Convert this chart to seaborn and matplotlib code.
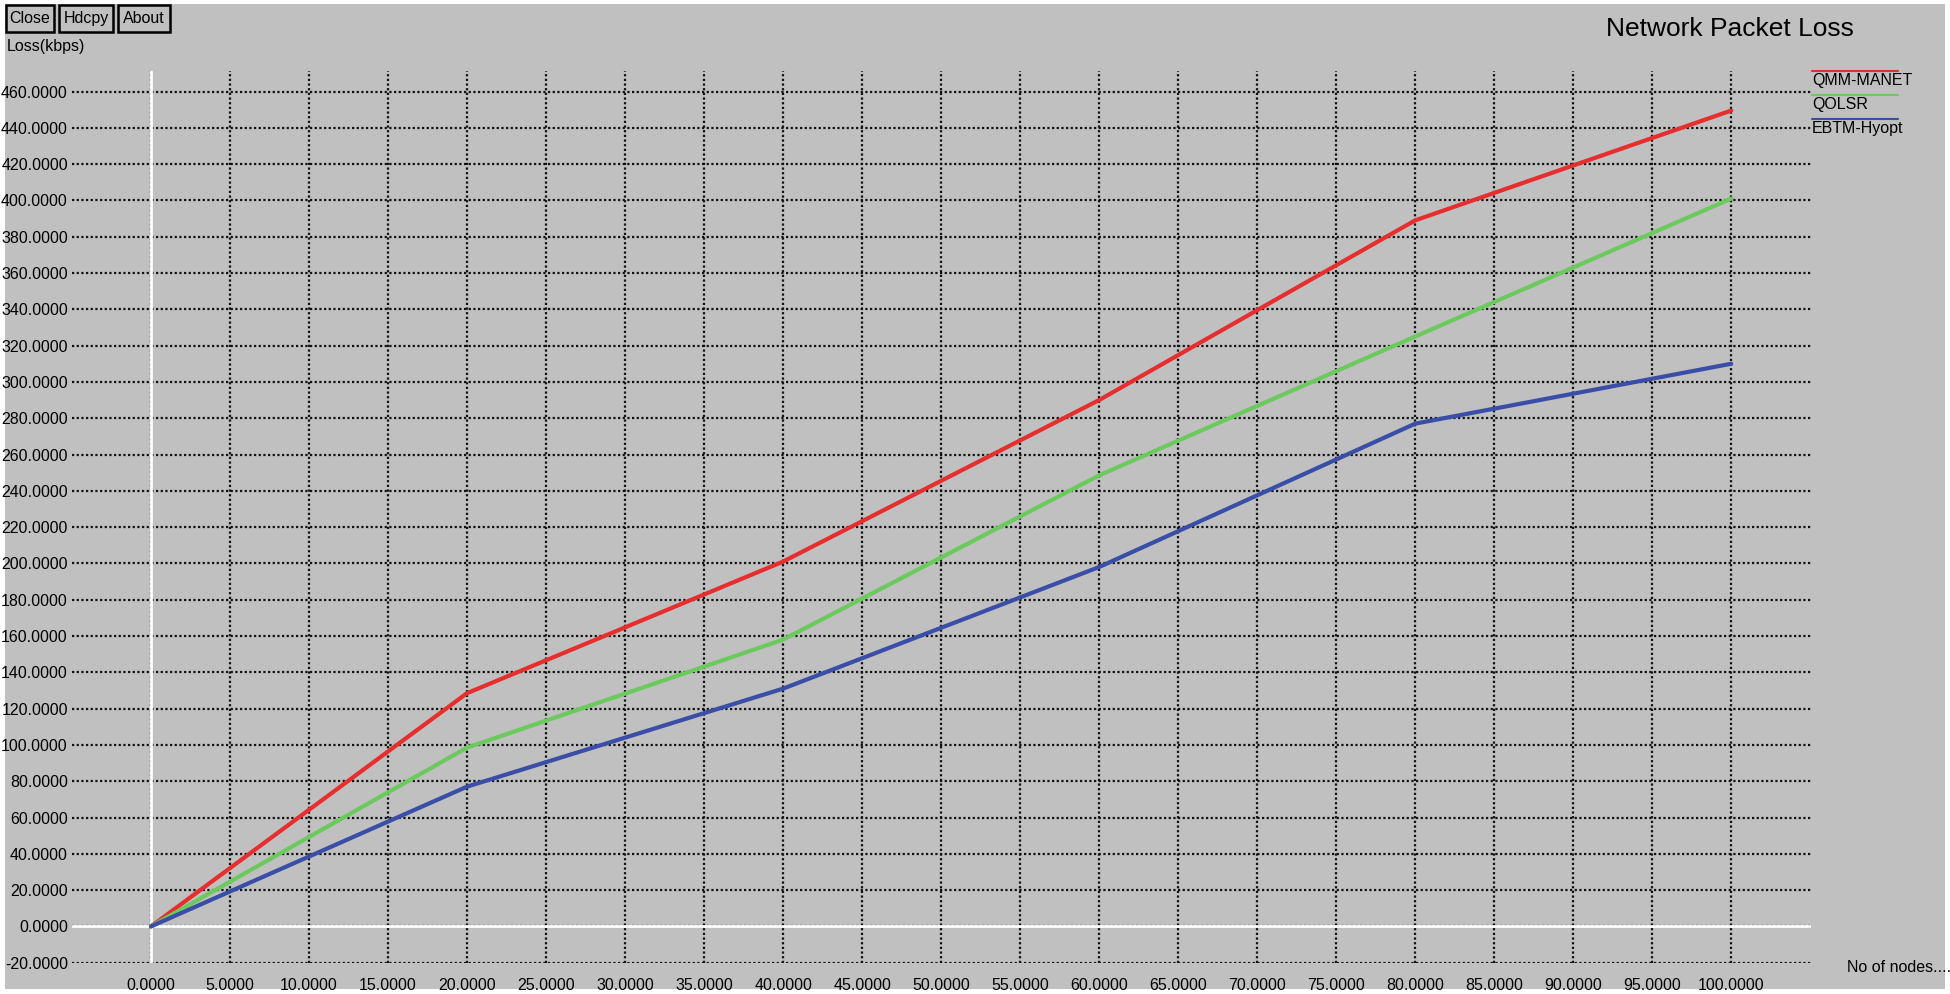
import numpy as np
import pandas as pd
import matplotlib
matplotlib.use("Agg")
import matplotlib.pyplot as plt
from matplotlib.lines import Line2D
from matplotlib.patches import Rectangle
import seaborn as sns

# Werte
nodes = [0, 20, 40, 60, 80, 100]
qmm_manet = [0, 128.5, 201, 290, 389, 449.5]
qolsr = [0, 98.5, 158, 248.5, 325, 401]
ebtm_hyopt = [0, 77, 131, 198, 277, 310]
series_names = ["QMM-MANET", "QOLSR", "EBTM-Hyopt"]
colors = ["#e62e2e", "#6cc95e", "#3a4ea8"]
x_ticks = list(range(0, 101, 5))
y_ticks = list(range(-20, 461, 20))
buttons = ["Close", "Hdcpy", "About"]

W, H = 1950, 994
bg = "#c0c0c0"

sns.set_theme(style="white")
plt.rcParams["font.family"] = ["Liberation Sans", "DejaVu Sans"]
plt.rcParams["text.color"] = "black"

df = pd.concat([
    pd.DataFrame({"nodes": nodes, "loss": vals, "protocol": name})
    for name, vals in zip(series_names, [qmm_manet, qolsr, ebtm_hyopt])
])

fig = plt.figure(figsize=(W / 100, H / 100), dpi=100, facecolor="white")
fig.patches.append(Rectangle((5 / W, 5 / H), 1 - 10 / W, 1 - 9 / H,
                             transform=fig.transFigure, facecolor=bg,
                             edgecolor="none", zorder=-1))

ax = fig.add_axes([72 / W, (H - 962.7) / H, (1811 - 72) / W, (962.7 - 71) / H])
ax.set_facecolor("none")

sns.lineplot(data=df, x="nodes", y="loss", hue="protocol", palette=colors,
             hue_order=series_names, linewidth=3, legend=False, ax=ax, zorder=3)

ax.set_xlim(-5, 105.05)
ax.set_ylim(-20, 471.3)
ax.set_xticks(x_ticks, labels=[f"{v:.4f}" for v in x_ticks])
ax.set_yticks(y_ticks, labels=[f"{v:.4f}" for v in y_ticks])
ax.tick_params(length=0, labelsize=11.5, colors="black", labelcolor="black")
ax.tick_params(axis="y", pad=3)
ax.tick_params(axis="x", pad=11)
ax.set_xlabel("")
ax.set_ylabel("")
for s in ax.spines.values():
    s.set_visible(False)
ax.grid(True, color="#111111", linestyle=(0, (1, 1.1)), linewidth=1.6)
ax.axvline(0, color="white", linewidth=2, zorder=1.5)
ax.axhline(0, color="white", linewidth=2, zorder=1.5)

# Titel und Achsentexte
fig.text(1730 / W, 1 - 29 / H, "Network Packet Loss", ha="center", va="center", fontsize=19)
fig.text(7 / W, 1 - 46 / H, "Loss(kbps)", ha="left", va="center", fontsize=11.5)
fig.text(1847 / W, 1 - 967 / H, "No of nodes....", ha="left", va="center", fontsize=11.5)

# Knoepfe oben links
bx = [(6, 54), (59, 113), (118, 170)]
for label, (x0, x1) in zip(buttons, bx):
    fig.patches.append(Rectangle((x0 / W, 1 - 32 / H), (x1 - x0) / W, 27 / H,
                                 transform=fig.transFigure, facecolor="none",
                                 edgecolor="black", linewidth=1.8))
    fig.text((x0 + x1) / 2 / W, 1 - 18.5 / H, label, ha="center", va="center", fontsize=11.5)

# Legende rechts oben: Linie ueber dem Text
for i, (name, c) in enumerate(zip(series_names, colors)):
    yl = 71 + 24.2 * i
    fig.add_artist(Line2D([1812 / W, 1898 / W], [1 - yl / H, 1 - yl / H],
                          color=c, linewidth=1.5, transform=fig.transFigure))
    fig.text(1812 / W, 1 - (yl + 9) / H, name, ha="left", va="center", fontsize=11.5)

fig.savefig("out.png", dpi=100, facecolor="white")
plt.close(fig)
